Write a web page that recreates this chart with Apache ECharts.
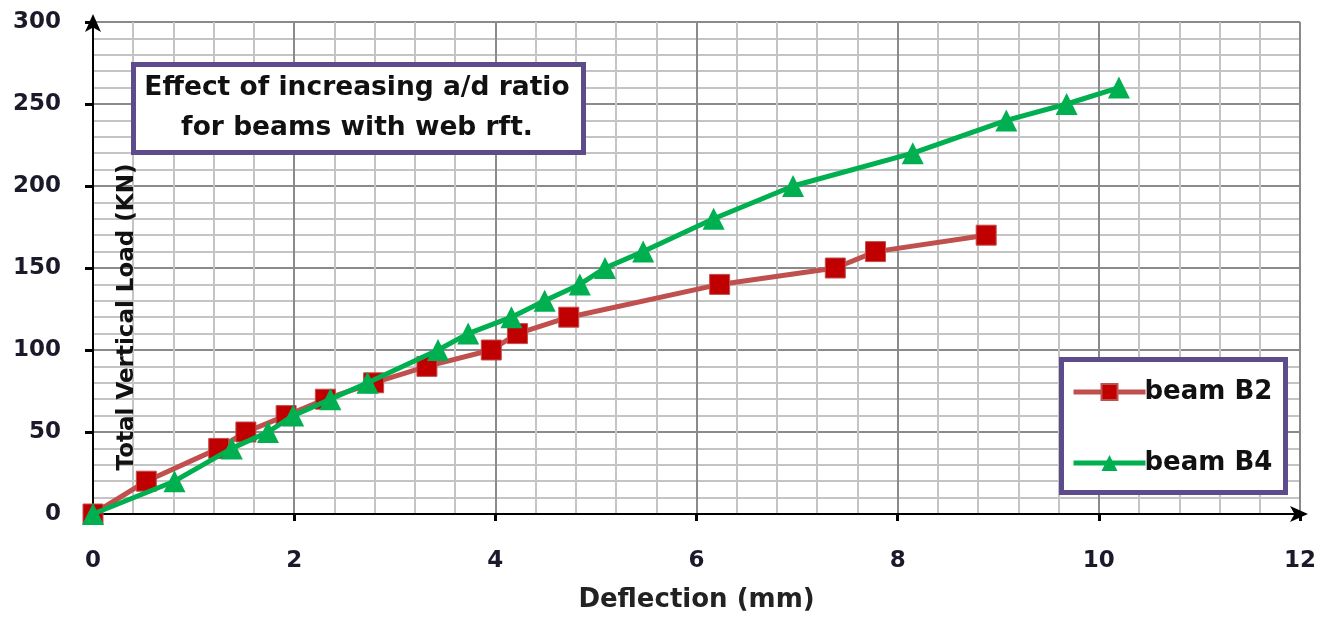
<!DOCTYPE html>
<html>
<head>
<meta charset="utf-8">
<script src="https://cdn.jsdelivr.net/npm/echarts@6/dist/echarts.min.js"></script>
<style>html,body{margin:0;padding:0;background:#fff}#c{width:1326px;height:618px}</style>
</head>
<body>
<div id="c"></div>
<script>
const b2Deflection = [0, 0.53, 1.25, 1.52, 1.92, 2.31, 2.79, 3.32, 3.96, 4.22, 4.73, 6.23, 7.38, 7.78, 8.88];
const b2Load       = [0, 20, 40, 50, 60, 70, 80, 90, 100, 110, 120, 140, 150, 160, 170];
const b4Deflection = [0, 0.81, 1.38, 1.74, 1.99, 2.36, 2.73, 3.43, 3.73, 4.16, 4.49, 4.84, 5.09, 5.47, 6.17, 6.96, 8.15, 9.08, 9.68, 10.2];
const b4Load       = [0, 20, 40, 50, 60, 70, 80, 100, 110, 120, 130, 140, 150, 160, 180, 200, 220, 240, 250, 260];
const seriesNames = ['beam B2', 'beam B4'];
const xTicks = [0, 2, 4, 6, 8, 10, 12];
const yTicks = [0, 50, 100, 150, 200, 250, 300];
const titleLines = ['Effect of increasing a/d ratio', 'for beams with web rft.'];
const xName = 'Deflection (mm)';
const yName = 'Total Vertical Load (KN)';

const pair = (xs, ys) => xs.map((x, i) => [x, ys[i]]);
const chart = echarts.init(document.getElementById('c'));
const purple = '#5E4B8B';
const tickFont = { fontFamily: 'DejaVu Sans', fontWeight: 'bold', fontSize: 23, color: '#1a1a2a' };

chart.setOption({
  animation: false,
  backgroundColor: '#fff',
  grid: { left: 93, right: 26, top: 22, bottom: 101, containLabel: false },
  xAxis: {
    type: 'value', min: xTicks[0], max: xTicks[xTicks.length - 1], interval: 2,
    name: xName, nameLocation: 'middle', nameGap: 73,
    nameTextStyle: { fontFamily: 'DejaVu Sans', fontWeight: 'bold', fontSize: 26, color: '#222' },
    axisLine: { show: true, lineStyle: { color: '#000', width: 2 }, symbol: ['none', 'arrow'], symbolSize: [12, 18], symbolOffset: [0, 8] },
    axisTick: { show: true, length: 7, lineStyle: { color: '#000', width: 3 } },
    axisLabel: Object.assign({ margin: 36 }, tickFont),
    splitLine: { show: true, lineStyle: { color: '#8a8a8a', width: 2 } },
    minorTick: { show: false, splitNumber: 5 },
    minorSplitLine: { show: true, lineStyle: { color: '#c4c4c4', width: 2 } }
  },
  yAxis: {
    type: 'value', min: yTicks[0], max: yTicks[yTicks.length - 1], interval: 50,
    axisLine: { show: true, lineStyle: { color: '#000', width: 2 }, symbol: ['none', 'arrow'], symbolSize: [12, 18], symbolOffset: [0, 8] },
    axisTick: { show: true, length: 8, lineStyle: { color: '#000', width: 3 } },
    axisLabel: Object.assign({ margin: 32 }, tickFont),
    splitLine: { show: true, lineStyle: { color: '#8a8a8a', width: 2 } },
    minorTick: { show: false, splitNumber: 5 },
    minorSplitLine: { show: true, lineStyle: { color: '#c4c4c4', width: 2 } }
  },
  legend: {
    show: true,
    orient: 'vertical',
    left: 1066, top: 374,
    itemWidth: 72, itemHeight: 20, itemGap: 45,
    textStyle: { fontFamily: 'DejaVu Sans', fontWeight: 'bold', fontSize: 26, color: '#111', padding: [0, 0, 0, -6] },
    data: [
      { name: seriesNames[0], lineStyle: { width: 5, color: '#C0504D' } },
      { name: seriesNames[1], lineStyle: { width: 5, color: '#00B050' } }
    ]
  },
  series: [
    {
      name: seriesNames[0], type: 'line', data: pair(b2Deflection, b2Load),
      symbol: 'rect', symbolSize: 20,
      lineStyle: { color: '#C0504D', width: 5 },
      itemStyle: { color: '#C00000', borderColor: '#C0504D', borderWidth: 1 },
      z: 3
    },
    {
      name: seriesNames[1], type: 'line', data: pair(b4Deflection, b4Load),
      symbol: 'triangle', symbolSize: 22,
      lineStyle: { color: '#00B050', width: 5 },
      itemStyle: { color: '#00B050' },
      z: 4
    }
  ],
  graphic: [
    { type: 'rect', left: 131, top: 62, shape: { width: 450, height: 88 }, style: { fill: '#fff', stroke: purple, lineWidth: 5 }, z: 10 },
    { type: 'text', x: 357, y: 108, z: 11,
      style: { text: titleLines.join('\n'), fill: '#111', font: 'bold 26.5px "DejaVu Sans"', align: 'center', verticalAlign: 'middle', lineHeight: 40 } },
    { type: 'rect', left: 1059, top: 357, shape: { width: 224, height: 133 }, style: { fill: '#fff', stroke: purple, lineWidth: 5 }, z: 1 },
    { type: 'text', x: 127, y: 317, rotation: Math.PI / 2, z: 11,
      style: { text: yName, fill: '#111', font: 'bold 23px "DejaVu Sans"', align: 'center', verticalAlign: 'middle' } }
  ]
});
</script>
</body>
</html>
